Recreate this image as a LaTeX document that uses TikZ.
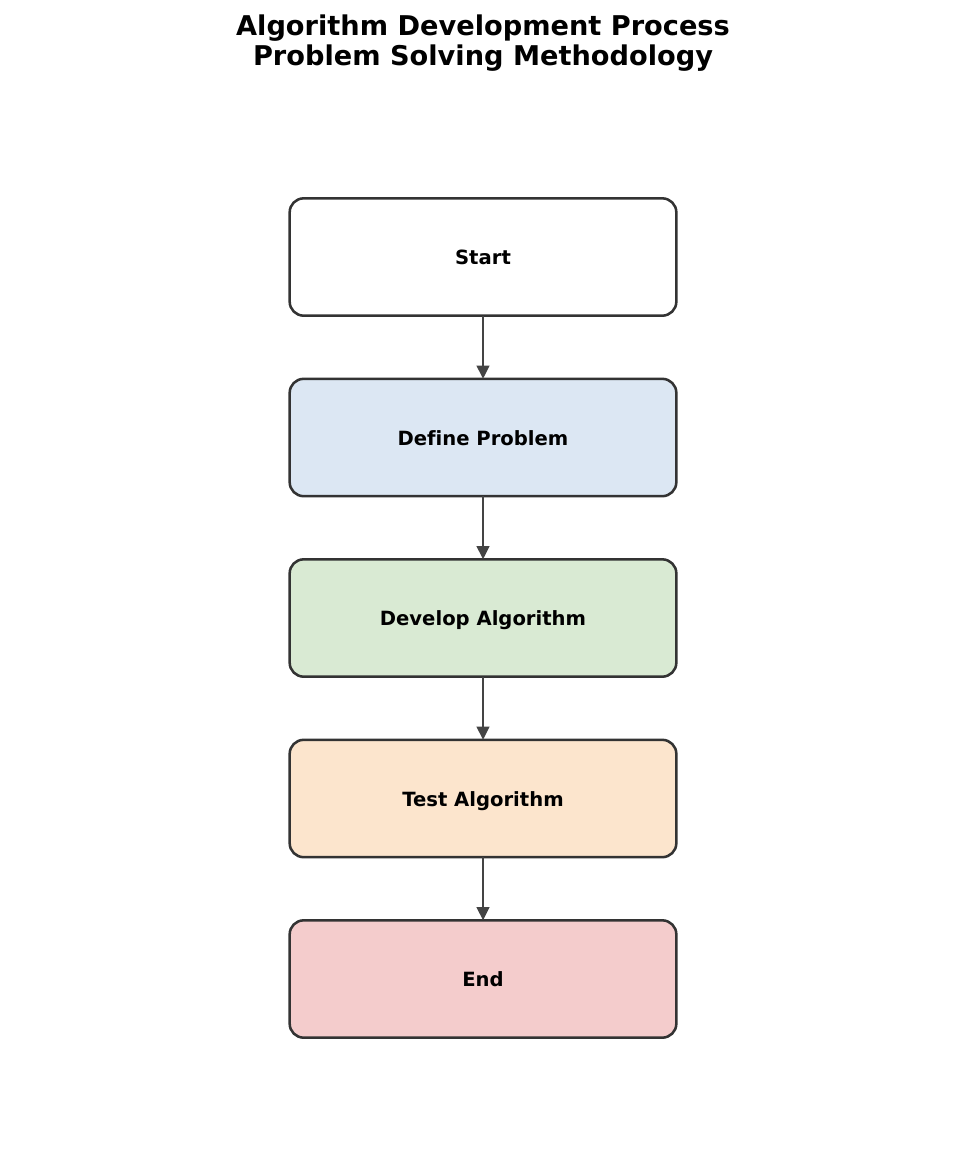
\documentclass[tikz,border=0pt]{standalone}
\usepackage{fontspec}
\setmainfont[Ligatures=NoCommon]{DejaVu Sans}
\usetikzlibrary{arrows.meta}
\definecolor{boxline}{HTML}{333333}
\definecolor{arrowcol}{HTML}{444444}
\definecolor{cblue}{HTML}{DCE7F3}
\definecolor{cgreen}{HTML}{D9EAD3}
\definecolor{corange}{HTML}{FCE5CD}
\definecolor{cred}{HTML}{F4CCCC}
\tikzset{
  stepbox/.style={draw=boxline, line width=1.9pt, rounded corners=10.5pt,
    minimum width=290pt, minimum height=88pt, inner sep=0pt, outer sep=0pt,
    text height=0.73em+4.5pt, text depth=0pt,
    font=\fontsize{14.7pt}{17pt}\selectfont\bfseries, text=black},
  flow/.style={draw=arrowcol, line width=1.6pt, -{Triangle[length=10pt,width=9.5pt]}},
  titletext/.style={align=center, font=\fontsize{20.4pt}{22.5pt}\selectfont\bfseries}
}
\begin{document}
\begin{tikzpicture}[x=0.75pt, y=-0.75pt]
\useasboundingbox (0,0) rectangle (965,1175);
\node[titletext] (title) at (483,43) {Algorithm Development Process\\Problem Solving Methodology};
\node[stepbox, fill=white] (start) at (483,257) {Start};
\node[stepbox, fill=cblue] (define) at (483,437.5) {Define Problem};
\node[stepbox, fill=cgreen] (develop) at (483,618) {Develop Algorithm};
\node[stepbox, fill=corange] (test) at (483,798.5) {Test Algorithm};
\node[stepbox, fill=cred] (end) at (483,979) {End};
\draw[flow] (start.south) -- (define.north);
\draw[flow] (define.south) -- (develop.north);
\draw[flow] (develop.south) -- (test.north);
\draw[flow] (test.south) -- (end.north);
\end{tikzpicture}
\end{document}
